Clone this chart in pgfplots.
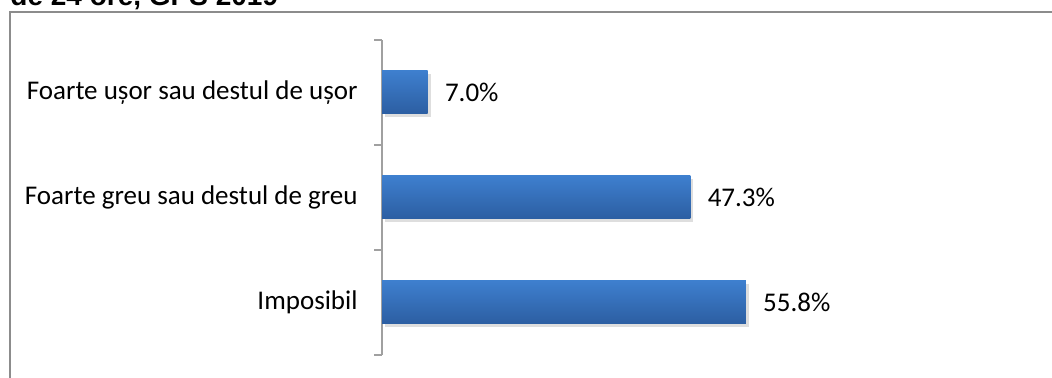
\documentclass[border=0pt]{standalone}
\usepackage{pgfplots}
\pgfplotsset{compat=1.18}
\usepackage{fontspec}
\setmainfont{Carlito}
\newfontfamily\titlefont{Liberation Sans}
\definecolor{barTop}{RGB}{62,127,206}
\definecolor{barBot}{RGB}{44,94,162}
\definecolor{axgray}{RGB}{160,160,160}
\definecolor{bordergray}{RGB}{140,140,140}
\begin{document}
\begin{tikzpicture}
\useasboundingbox (0,0) rectangle (526pt,189pt);
\clip (0,0) rectangle (526pt,189pt);
\draw[bordergray, line width=1pt] (5pt,-20pt) rectangle (600pt,183pt);
\node[anchor=base west, inner sep=0pt, font=\titlefont\bfseries\fontsize{14}{16}\selectfont] at (5pt,186pt) {de 24 ore, GPS 2019};
\begin{axis}[
  at={(191pt,11.5pt)}, anchor=south west,
  scale only axis, width=326pt, height=157.5pt,
  xmin=0, xmax=100, ymin=-0.5, ymax=2.5,
  axis x line=none,
  axis y line*=left,
  y axis line style={axgray, line width=1pt},
  ytick={0,1,2},
  yticklabels={Imposibil, Foarte greu sau destul de greu, Foarte ușor sau destul de ușor},
  minor ytick={-0.5,0.5,1.5,2.5},
  tick align=outside,
  major tick length=0pt,
  minor tick length=4pt,
  minor tick style={axgray, line width=1pt},
  major tick style={draw=none},
  yticklabel style={font=\fontsize{13.5}{15}\selectfont, anchor=east, inner sep=0pt, xshift=-12pt},
  /pgf/number format/assume math mode=true,
  clip=false,
  every axis plot/.append style={xbar, bar width=21.5pt, draw=none},
  mybar/.style={bar shift=0pt, top color=barTop, bottom color=barBot,
    nodes near coords={\pgfmathprintnumber[fixed, fixed zerofill, precision=1]{\pgfplotspointmeta}\%},
    nodes near coords style={anchor=west, inner sep=0pt, xshift=8.5pt, font=\fontsize{13.5}{15}\selectfont, text=black, opacity=1},
    point meta=x},
  myshadow/.style={bar shift=-1.5pt, fill=black, fill opacity=0.13, forget plot, xshift=1.5pt},
]
\addplot[myshadow] coordinates {(55.8,0)};
\addplot[myshadow] coordinates {(47.3,1)};
\addplot[myshadow] coordinates {(7.0,2)};
\addplot[mybar] coordinates {(55.8,0)};
\addplot[mybar] coordinates {(47.3,1)};
\addplot[mybar] coordinates {(7.0,2)};
\end{axis}
\end{tikzpicture}
\end{document}
